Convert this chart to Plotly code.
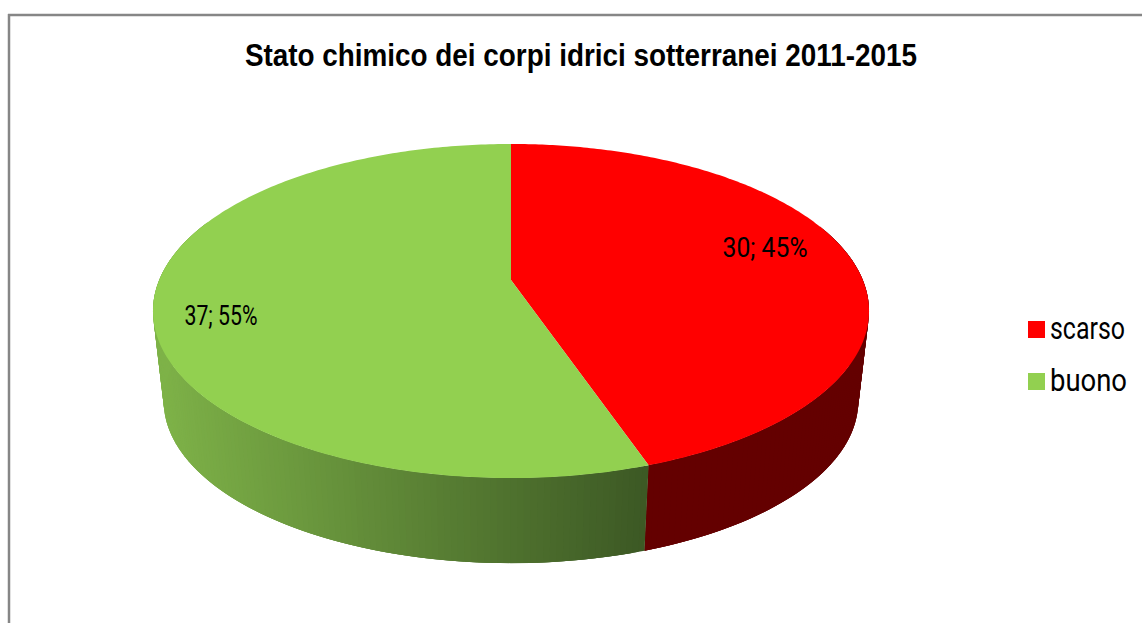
import json
import math
import plotly.graph_objects as go

# Chart data
title_text = "Stato chimico dei corpi idrici sotterranei 2011-2015"
categories = ["scarso", "buono"]
values = [30, 37]
top_colors = ["#FF0000", "#92D050"]

# Drawing geometry of the tilted disc, in page pixels
CX, APEX_Y = 511.0, 280.0
RX, RY, PERSPECTIVE = 351.8, 161.3, 0.1857
BASE_Y, BASE_SCALE = 371.0, 0.97
QUADS_PER_TURN = 400
TEXT_FONT = "Roboto, Liberation Sans, sans-serif"
TITLE_FONT = "Liberation Sans, sans-serif"


def project(theta, scale=1.0, y0=APEX_Y):
    """Perspective projection of a rim point; theta runs clockwise from 12 o'clock."""
    w = 1 + PERSPECTIVE * math.cos(theta)
    return (CX + scale * RX * math.sin(theta) / w,
            y0 - scale * RY * math.cos(theta) / w)


def wall_color(index, x):
    """Flat maroon wall for the first slice, left-to-right fade for the second."""
    if index == 0:
        return "rgb(100,0,0)"
    t = max(0.0, min(1.0, (x - 157) / (650 - 157)))
    c = [126 + (60 - 126) * t, 178 + (88 - 178) * t, 72 + (36 - 72) * t]
    return f"rgb({c[0]:.0f},{c[1]:.0f},{c[2]:.0f})"


total = sum(values)
spans = []
start = 0.0
for v in values:
    end = start + 2 * math.pi * v / total
    spans.append((start, end))
    start = end

fig = go.Figure()

# Wall of the disc: narrow overlapping pieces, so the outline and the shading both follow the rim
for i, (a0, a1) in enumerate(spans):
    n = max(1, round(QUADS_PER_TURN * (a1 - a0) / (2 * math.pi)))
    step = (a1 - a0) / n
    for k in range(n):
        t0 = a0 + step * k
        t1 = min(a1, t0 + 3 * step)
        if math.cos(t0 + step / 2) > 0.35:
            continue  # back of the wall stays hidden behind the top face
        pts = [project(t0), project(t1),
               project(t1, BASE_SCALE, BASE_Y), project(t0, BASE_SCALE, BASE_Y)]
        col = wall_color(i, project(t0 + step / 2)[0])
        fig.add_trace(go.Scatter(
            x=[p[0] for p in pts] + [pts[0][0]], y=[p[1] for p in pts] + [pts[0][1]],
            mode="none", fill="toself", fillcolor=col, hoverinfo="skip", showlegend=False))

# Top face of each slice
for (a0, a1), col, cat, v in zip(spans, top_colors, categories, values):
    n = 240
    rim = [project(a0 + (a1 - a0) * k / n) for k in range(n + 1)]
    xs = [CX] + [q[0] for q in rim] + [CX]
    ys = [APEX_Y] + [q[1] for q in rim] + [APEX_Y]
    fig.add_trace(go.Scatter(
        x=xs, y=ys, mode="none", fill="toself", fillcolor=col, name=cat, showlegend=False,
        hoveron="fills", text=f"{cat}: {v}", hoverinfo="text"))

# Value labels on the slices
label_x = [765, 221]
label_y = [250, 318]
value_labels = [f"{v}; {round(100 * v / total)}%" for v in values]
fig.add_trace(go.Scatter(
    x=label_x, y=label_y, mode="text", text=value_labels,
    textfont=dict(family=TEXT_FONT, size=27, color="#000000"),
    textposition="middle center", hoverinfo="skip", showlegend=False))

# Key on the right-hand side
key_y = [329.5, 381.5]
fig.add_trace(go.Scatter(
    x=[1036.5, 1036.5], y=key_y, mode="markers",
    marker=dict(symbol="square", size=17, color=top_colors, line=dict(width=0)),
    hoverinfo="skip", showlegend=False))
fig.add_trace(go.Scatter(
    x=[1050, 1050], y=[y + 1.5 for y in key_y], mode="text", text=categories,
    textposition="middle right",
    textfont=dict(family=TEXT_FONT, size=31, color="#000000"),
    hoverinfo="skip", showlegend=False))

# Chart frame and title
fig.add_shape(type="line", x0=9, x1=9, y0=14, y1=623, xref="x", yref="y",
              line=dict(color="#868686", width=2.5))
fig.add_shape(type="line", x0=8, x1=1142, y0=15, y1=15, xref="x", yref="y",
              line=dict(color="#868686", width=2.5))
fig.add_annotation(x=581, y=55, xref="x", yref="y", text=title_text,
                   showarrow=False, xanchor="center", yanchor="middle",
                   font=dict(family=TITLE_FONT, size=32, color="#000000", weight=700))

fig.update_layout(
    width=1142, height=623, margin=dict(l=0, r=0, t=0, b=0),
    paper_bgcolor="#FFFFFF", plot_bgcolor="#FFFFFF", showlegend=False,
    xaxis=dict(range=[0, 1142], visible=False, fixedrange=True),
    yaxis=dict(range=[623, 0], visible=False, fixedrange=True),
)

# No condensed typeface is installed, so the labels are narrowed to their set widths
text_widths = {title_text: 672, value_labels[0]: 85, value_labels[1]: 73,
               categories[0]: 75, categories[1]: 77}
post = """
var widths = %s;
document.querySelectorAll('svg text').forEach(function (el) {
  var w = widths[el.textContent];
  if (w) { el.setAttribute('textLength', w); el.setAttribute('lengthAdjust', 'spacingAndGlyphs'); }
});
""" % json.dumps(text_widths)
fig.write_html("out.html", config=dict(displayModeBar=False), post_script=post)
